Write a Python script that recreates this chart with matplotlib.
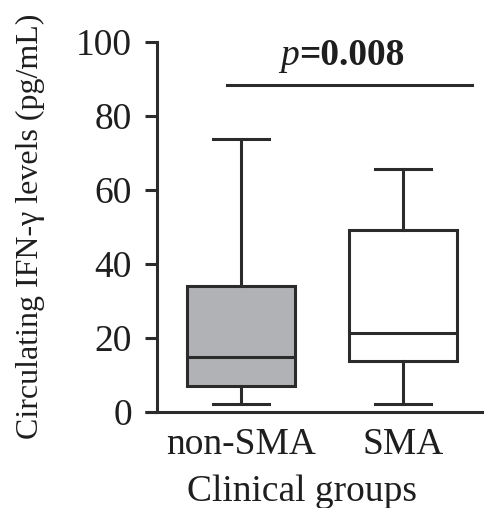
import matplotlib
matplotlib.use("Agg")
import matplotlib.pyplot as plt

# Data
groups = ["non-SMA", "SMA"]
whislo = [2.1, 2.1]
q1 = [7.1, 13.9]
med = [14.8, 21.3]
q3 = [34.0, 49.2]
whishi = [73.7, 65.8]
yticks = [0, 20, 40, 60, 80, 100]
p_label_italic = "p"
p_label_value = "=0.008"
xlabel = "Clinical groups"
ylabel = "Circulating IFN-\u03b3 levels (pg/mL)"

plt.rcParams["font.family"] = ["Liberation Serif", "DejaVu Serif"]
line_c = "#2b2b2b"
text_c = "#1e1e1e"
fills = ["#b0b2b5", "#ffffff"]
fs = 27

fig = plt.figure(figsize=(4.84, 5.08), dpi=100)
ax = fig.add_axes([157 / 484, 1 - 412 / 508, 1 - 157 / 484, 370 / 508])

stats = []
for i, g in enumerate(groups):
    stats.append(dict(label=g, whislo=whislo[i], q1=q1[i], med=med[i],
                      q3=q3[i], whishi=whishi[i], fliers=[]))

positions = [1, 2]
bp = ax.bxp(stats, positions=positions, widths=0.667, patch_artist=True,
            showfliers=False, capwidths=0.35,
            boxprops=dict(linewidth=2.2, edgecolor=line_c),
            medianprops=dict(color=line_c, linewidth=2.2),
            whiskerprops=dict(color=line_c, linewidth=2.2),
            capprops=dict(color=line_c, linewidth=2.2))
for patch, fc in zip(bp["boxes"], fills):
    patch.set_facecolor(fc)

ax.set_xlim(0.481, 2.5)
ax.set_ylim(0, 100)
ax.set_yticks(yticks)
ax.set_xticks(positions)
ax.set_xticklabels(groups)

for s in ["top", "right"]:
    ax.spines[s].set_visible(False)
for s in ["left", "bottom"]:
    ax.spines[s].set_linewidth(2.2)
    ax.spines[s].set_color(line_c)
ax.spines["left"].set_bounds(0, 100)

ax.tick_params(axis="y", length=9, width=2.2, color=line_c, pad=9,
               labelsize=fs, labelcolor=text_c)
ax.tick_params(axis="x", length=0, pad=11, labelsize=fs, labelcolor=text_c)

# extend bottom axis line to the left like the reference
ax.plot([0.481 - 12 / 162, 0.481], [0, 0], color=line_c, lw=2.2,
        clip_on=False, solid_capstyle="butt")

# significance bar
ax.plot([1 - 14 / 162, 2 + 69 / 162], [88.4, 88.4], color=line_c, lw=2.2,
        clip_on=False)
ax.text(1.36, 93.8, p_label_italic, style="italic", fontsize=fs, ha="right",
        va="baseline", color=text_c, clip_on=False)
ax.text(1.36, 93.8, p_label_value, weight="bold", fontsize=fs, ha="left",
        va="baseline", color=text_c, clip_on=False)

fig.text(302 / 484, 1 - 492 / 508, xlabel, fontsize=fs, ha="center",
         va="center", color=text_c)
fig.text(30 / 484, 1 - 226 / 508, ylabel, fontsize=23, rotation=90,
         ha="center", va="center", color=text_c)

fig.savefig("out.png", dpi=100)
